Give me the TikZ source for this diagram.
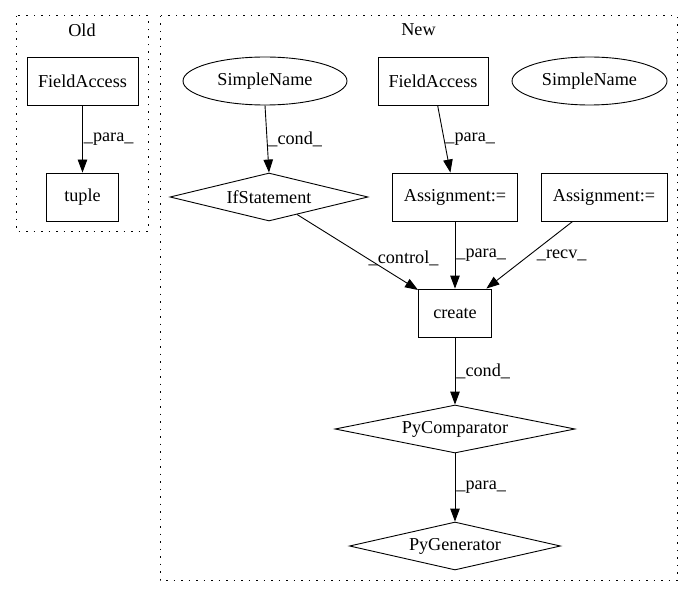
\documentclass[tikz,border=0pt]{standalone}
\usepackage{fontspec}
\setmainfont{Liberation Serif}
\usetikzlibrary{shapes.geometric,arrows.meta}

\begin{document}
\begin{tikzpicture}[x=1pt,y=-1pt,line width=0.9pt,
    font=\fontsize{18.2}{22}\selectfont,
    box/.style={draw,rectangle,minimum height=48pt,inner sep=0pt},
    ell/.style={draw,ellipse,minimum height=48pt,inner sep=0pt},
    dia/.style={draw,diamond,minimum height=48pt,inner sep=0pt},
    flow/.style={-{Triangle[length=13pt,width=9.5pt]}},
    lab/.style={right,inner sep=1pt},
    cluster/.style={line width=1pt,dash pattern=on 1.5pt off 6pt}]
      \useasboundingbox (0,0) rectangle (693,596);

      % clusters
      \draw[cluster] (16,16) rectangle (148,231);
      \draw[cluster] (160,16) rectangle (677,580);
      \node (Old) at (82,30) {Old};
      \node (New) at (418.5,30) {New};

      % old version
      \node[box,minimum width=111pt] (FA) at (82.5,81) {FieldAccess};
      \node[box,minimum width=72pt] (Tup) at (82.5,197) {tuple};

      % new version
      \node[ell,minimum width=164pt] (SN) at (265,81) {SimpleName};
      \node[box,minimum width=110pt] (FAn) at (433,81) {FieldAccess};
      \node[ell,minimum width=155pt] (SNr) at (589.5,81) {SimpleName};
      \node[dia,minimum width=198pt,shape aspect=4.125] (If) at (269,197) {IfStatement};
      \node[box,minimum width=125pt] (Asg) at (455,197) {Assignment:=};
      \node[box,minimum width=126pt] (Asgr) at (604,197) {Assignment:=};
      \node[box,minimum width=73pt] (Cr) at (455,313) {create};
      \node[dia,minimum width=240pt,shape aspect=5] (Cmp) at (455,429) {PyComparator};
      \node[dia,minimum width=211pt,shape aspect=4.4] (Gen) at (455,546) {PyGenerator};

      \draw[flow] (FA) -- node[lab] {\_para\_} (Tup);
      \draw[flow] (SN.south) -- node[lab] {\_cond\_} (If.north);
      \draw[flow] (FAn) -- node[lab] {\_para\_} (Asg);
      \draw[flow] (If) -- node[lab,pos=0.58] {\_control\_} (Cr);
      \draw[flow] (Asg) -- node[lab] {\_para\_} (Cr);
      \draw[flow] (Asgr) -- node[lab,xshift=6pt] {\_recv\_} (Cr);
      \draw[flow] (Cr) -- node[lab] {\_cond\_} (Cmp);
      \draw[flow] (Cmp) -- node[lab] {\_para\_} (Gen);
\end{tikzpicture}
\end{document}
